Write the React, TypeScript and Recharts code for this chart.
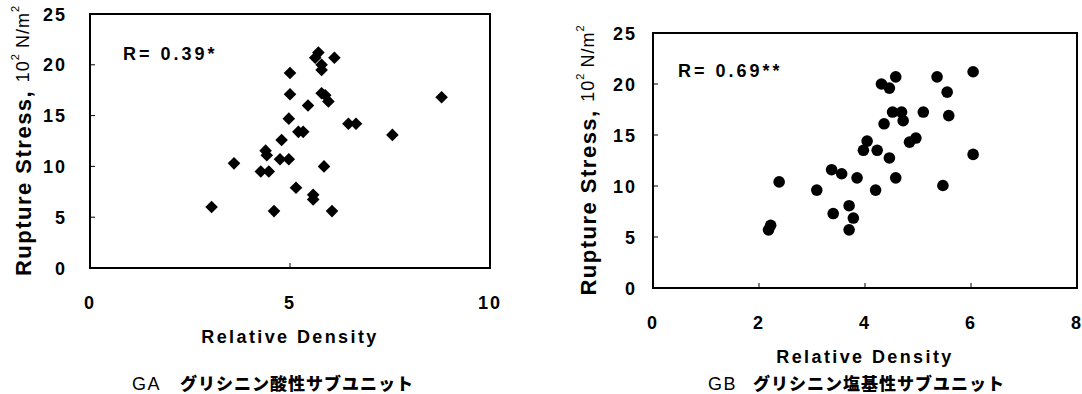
import React from 'react';
import { ScatterChart, Scatter, XAxis, YAxis, ReferenceArea } from 'recharts';

// GA: glycinin acidic subunit
const gaDensity = [3.04, 3.6, 4.27, 4.47, 4.39, 4.42, 4.6, 4.79, 4.75, 4.97, 4.97, 5.0, 5.0, 5.15, 5.21, 5.33, 5.45, 5.58, 5.58, 5.63, 5.71, 5.79, 5.79, 5.79, 5.88, 5.96, 5.85, 6.05, 6.11, 6.46, 6.65, 7.56, 8.79];
const gaStress = [6.0, 10.3, 9.5, 9.5, 11.55, 11.1, 5.6, 12.6, 10.7, 10.7, 14.7, 17.1, 19.2, 7.9, 13.4, 13.4, 16.0, 7.2, 6.75, 20.7, 21.2, 20.0, 19.5, 17.2, 17.0, 16.4, 10.0, 5.6, 20.7, 14.2, 14.2, 13.1, 16.8];

// GB: glycinin basic subunit
const gbDensity = [2.38, 3.09, 3.37, 3.56, 3.85, 4.2, 3.97, 4.04, 4.23, 4.31, 4.46, 4.58, 4.52, 4.69, 4.72, 4.36, 4.46, 4.58, 4.84, 4.96, 5.1, 5.36, 5.55, 5.58, 6.04, 6.04, 5.47, 3.7, 3.4, 3.78, 3.7, 2.22, 2.18];
const gbStress = [10.4, 9.6, 11.6, 11.2, 10.8, 9.6, 13.5, 14.4, 13.5, 20.0, 19.6, 20.7, 17.25, 17.25, 16.4, 16.1, 12.75, 10.8, 14.3, 14.7, 17.25, 20.7, 19.2, 16.9, 21.2, 13.1, 10.05, 8.07, 7.3, 6.86, 5.7, 6.14, 5.7];

const gaXTicks = [0, 5, 10];
const gbXTicks = [0, 2, 4, 6, 8];
const yTicks = [0, 5, 10, 15, 20, 25];

const gaData = gaDensity.map((x, i) => ({ x, y: gaStress[i] }));
const gbData = gbDensity.map((x, i) => ({ x, y: gbStress[i] }));

const FONT = '"Liberation Sans", Arial, sans-serif';
const CJK = '"Noto Sans CJK JP", sans-serif';

const Diamond = (props: any) => {
  const { cx, cy } = props;
  const r = 6.3;
  return <polygon points={`${cx},${cy - r} ${cx + r},${cy} ${cx},${cy + r} ${cx - r},${cy}`} fill="#000" />;
};

const Dot = (props: any) => <circle cx={props.cx} cy={props.cy} r={5.8} fill="#000" />;

const XTick = ({ x, y, payload }: any) => (
  <text x={x} y={y} dy={12.5} textAnchor="middle" fill="#000"
    style={{ fontFamily: FONT, fontSize: 18, fontWeight: 700, letterSpacing: 2 }}>
    {payload.value}
  </text>
);

const YTick = ({ x, y, payload }: any) => (
  <text x={x} y={y} dy={6.5} textAnchor="end" fill="#000"
    style={{ fontFamily: FONT, fontSize: 18, fontWeight: 700, letterSpacing: 2 }}>
    {payload.value}
  </text>
);

const xTitle = (props: any) => {
  const vb = props.viewBox;
  return (
    <text x={vb.x + vb.width / 2} y={vb.y + 75} textAnchor="middle" fill="#000"
      style={{ fontFamily: FONT, fontSize: 18, fontWeight: 700, letterSpacing: 2.4 }}>
      Relative Density
    </text>
  );
};

const yTitle = (dx: number) => (props: any) => {
  const vb = props.viewBox;
  const cx = vb.x - dx;
  const cy = vb.y + vb.height / 2;
  return (
    <text x={cx} y={cy} textAnchor="middle" dominantBaseline="central" fill="#000"
      transform={`rotate(-90 ${cx} ${cy})`} style={{ fontFamily: FONT }}>
      <tspan fontWeight={700} fontSize={22} letterSpacing={1.5}>Rupture Stress, </tspan>
      <tspan fontSize={18} letterSpacing={1}>10</tspan>
      <tspan fontSize={11} dy={-8}>2</tspan>
      <tspan fontSize={18} dy={8} letterSpacing={1}> N/m</tspan>
      <tspan fontSize={11} dy={-8}>2</tspan>
    </text>
  );
};

const axisLine = { stroke: '#000', strokeWidth: 2 };
const tickLine = { stroke: '#000', strokeWidth: 1 };

export default function App() {
  return (
    <div style={{ position: 'absolute', left: 0, top: 0, width: 1082, height: 394, background: '#fff' }}>
      <div style={{ position: 'absolute', left: 0, top: 0 }}>
        <ScatterChart width={540} height={394} margin={{ top: 14, right: 50, bottom: 66, left: 50 }}>
          <XAxis type="number" dataKey="x" domain={[0, 10]} ticks={gaXTicks} height={60}
            tickSize={-5} tickMargin={33} axisLine={axisLine} tickLine={tickLine} tick={<XTick />}
            label={{ content: xTitle }} />
          <YAxis type="number" dataKey="y" domain={[0, 25]} ticks={yTicks} width={40}
            tickSize={-5} tickMargin={28} axisLine={axisLine} tickLine={tickLine} tick={<YTick />}
            label={{ content: yTitle(27) }} />
          <ReferenceArea x1={0} x2={10} y1={0} y2={25} fill="none" stroke="#000" strokeWidth={2} />
          <Scatter data={gaData} shape={Diamond} isAnimationActive={false} />
        </ScatterChart>
      </div>
      <div style={{ position: 'absolute', left: 560, top: 0 }}>
        <ScatterChart width={522} height={394} margin={{ top: 33, right: 5, bottom: 46, left: 53 }}>
          <XAxis type="number" dataKey="x" domain={[0, 8]} ticks={gbXTicks} height={60}
            tickSize={-5} tickMargin={33} axisLine={axisLine} tickLine={tickLine} tick={<XTick />}
            label={{ content: xTitle }} />
          <YAxis type="number" dataKey="y" domain={[0, 25]} ticks={yTicks} width={40}
            tickSize={-5} tickMargin={21} axisLine={axisLine} tickLine={tickLine} tick={<YTick />}
            label={{ content: yTitle(25) }} />
          <ReferenceArea x1={0} x2={8} y1={0} y2={25} fill="none" stroke="#000" strokeWidth={2} />
          <Scatter data={gbData} shape={Dot} isAnimationActive={false} />
        </ScatterChart>
      </div>
      <svg width={1082} height={394} style={{ position: 'absolute', left: 0, top: 0, pointerEvents: 'none' }}>
        <text x={123} y={60} fill="#000" style={{ fontFamily: FONT, fontSize: 18, fontWeight: 700, letterSpacing: 3 }}>R= 0.39*</text>
        <text x={678} y={77} fill="#000" style={{ fontFamily: FONT, fontSize: 18, fontWeight: 700, letterSpacing: 3 }}>R= 0.69**</text>
        <text x={132} y={390} fill="#000" style={{ fontFamily: FONT, fontSize: 18, letterSpacing: 1.5 }}>GA</text>
        <text x={180} y={390} fill="#000" style={{ fontFamily: CJK, fontSize: 17, fontWeight: 900, letterSpacing: 1 }}>グリシニン酸性サブユニット</text>
        <text x={708} y={390} fill="#000" style={{ fontFamily: FONT, fontSize: 18, letterSpacing: 1.5 }}>GB</text>
        <text x={753} y={390} fill="#000" style={{ fontFamily: CJK, fontSize: 17, fontWeight: 900, letterSpacing: 1 }}>グリシニン塩基性サブユニット</text>
      </svg>
    </div>
  );
}
